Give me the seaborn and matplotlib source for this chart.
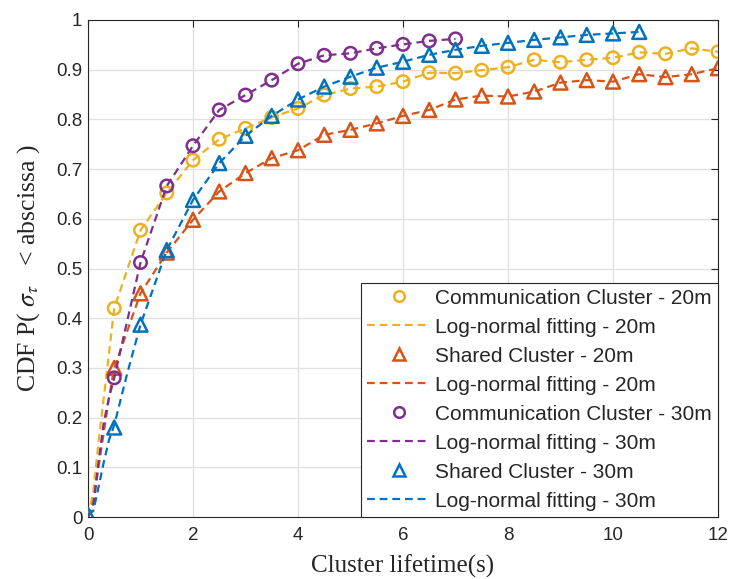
import numpy as np
import pandas as pd
import matplotlib
matplotlib.use("Agg")
import matplotlib.pyplot as plt
from matplotlib.lines import Line2D
import seaborn as sns

# measured CDF points (markers)
x_comm20 = [0.5, 1, 1.5, 2, 2.5, 3, 3.5, 4, 4.5, 5, 5.5, 6, 6.5, 7, 7.5, 8, 8.5, 9, 9.5, 10, 10.5, 11, 11.5, 12]
y_comm20 = [0.42, 0.577, 0.652, 0.718, 0.760, 0.782, 0.804, 0.822, 0.849, 0.862, 0.866, 0.876, 0.894, 0.893,
            0.899, 0.905, 0.920, 0.915, 0.920, 0.924, 0.935, 0.932, 0.943, 0.936]

x_shared20 = [0.5, 1, 1.5, 2, 2.5, 3, 3.5, 4, 4.5, 5, 5.5, 6, 6.5, 7, 7.5, 8, 8.5, 9, 9.5, 10, 10.5, 11, 11.5, 12]
y_shared20 = [0.30, 0.45, 0.532, 0.598, 0.655, 0.692, 0.722, 0.738, 0.769, 0.779, 0.792, 0.807, 0.819, 0.840,
              0.848, 0.846, 0.856, 0.874, 0.879, 0.876, 0.891, 0.885, 0.891, 0.903]

x_comm30 = [0.5, 1, 1.5, 2, 2.5, 3, 3.5, 4, 4.5, 5, 5.5, 6, 6.5, 7]
y_comm30 = [0.28, 0.512, 0.666, 0.747, 0.819, 0.849, 0.879, 0.912, 0.929, 0.933, 0.943, 0.951, 0.958, 0.962]

x_shared30 = [0, 0.5, 1, 1.5, 2, 2.5, 3, 3.5, 4, 4.5, 5, 5.5, 6, 6.5, 7, 7.5, 8, 8.5, 9, 9.5, 10, 10.5]
y_shared30 = [0.005, 0.18, 0.387, 0.537, 0.638, 0.712, 0.767, 0.807, 0.840, 0.866, 0.886, 0.904, 0.916, 0.930,
              0.940, 0.948, 0.954, 0.960, 0.965, 0.970, 0.973, 0.976]

# log-normal fitting curves
fx_comm20 = [0, 0.1, 0.2, 0.3, 0.4] + x_comm20
fy_comm20 = [0, 0.05, 0.15, 0.24, 0.33] + y_comm20
fx_shared20 = [0, 0.1, 0.2, 0.3, 0.4] + x_shared20
fy_shared20 = [0, 0.03, 0.10, 0.17, 0.24] + y_shared20
fx_comm30 = [0, 0.1, 0.2, 0.3, 0.4] + x_comm30
fy_comm30 = [0, 0.02, 0.11, 0.19, 0.24] + y_comm30
fx_shared30 = [0, 0.1, 0.2, 0.3, 0.4, 0.5, 0.75] + x_shared30[2:]
fy_shared30 = [0.005, 0.012, 0.06, 0.11, 0.155, 0.185, 0.29] + y_shared30[2:]

YELLOW, ORANGE, PURPLE, BLUE = "#EDB120", "#D95319", "#7E2F8E", "#0072BD"

series = [
    ("Communication Cluster - 20m", "Log-normal fitting - 20m", x_comm20, y_comm20, fx_comm20, fy_comm20, YELLOW, "o"),
    ("Shared Cluster - 20m", "Log-normal fitting - 20m", x_shared20, y_shared20, fx_shared20, fy_shared20, ORANGE, "^"),
    ("Communication Cluster - 30m", "Log-normal fitting - 30m", x_comm30, y_comm30, fx_comm30, fy_comm30, PURPLE, "o"),
    ("Shared Cluster - 30m", "Log-normal fitting - 30m", x_shared30, y_shared30, fx_shared30, fy_shared30, BLUE, "^"),
]

sns.set_style("white")
plt.rcParams["font.family"] = ["Liberation Sans", "DejaVu Sans"]
plt.rcParams["mathtext.fontset"] = "stix"

fig = plt.figure(figsize=(7.32, 5.79), dpi=100)
ax = fig.add_axes([88/732, 1 - 517/579, 630/732, 497/579])

dash = (0, (3.5, 2.2))
handles = []
for lab_m, lab_f, x, y, fx, fy, col, mk in series:
    ms = 9 if mk == "o" else 10
    sns.scatterplot(x=x, y=y, ax=ax, marker=mk, s=ms**2, facecolors="none",
                    edgecolor=col, linewidth=1.8, zorder=3, legend=False)
    sns.lineplot(x=fx, y=fy, ax=ax, color=col, lw=1.6, linestyle=dash,
                 zorder=3, legend=False, estimator=None, sort=False)
    handles.append(Line2D([], [], ls="none", marker=mk, ms=ms*0.85, mfc="none",
                          mec=col, mew=1.8, label=lab_m))
    handles.append(Line2D([], [], color=col, lw=1.6, ls=dash, label=lab_f))

ax.set_xlim(0, 12)
ax.set_ylim(0, 1)
ax.set_xticks(np.arange(0, 13, 2))
ax.set_yticks(np.arange(0, 1.01, 0.1))
ax.set_yticklabels(["0", "0.1", "0.2", "0.3", "0.4", "0.5", "0.6", "0.7", "0.8", "0.9", "1"])
ax.tick_params(direction="in", length=5, width=0.8, color="#262626", labelsize=13.5,
               top=True, right=True, labelcolor="#262626")
ax.tick_params(axis="x", pad=7)
ax.tick_params(axis="y", pad=4)
ax.grid(True, color="#dfdfdf", lw=0.9)
for s in ax.spines.values():
    s.set_color("#262626")
    s.set_linewidth(0.8)

ax.set_xlabel("Cluster lifetime(s)", family="Liberation Serif", fontsize=18, labelpad=8)
ax.set_ylabel(r"CDF P( $\sigma_{\tau}$   < abscissa )", family="Liberation Serif", fontsize=18.5, labelpad=10)

leg = ax.legend(handles=handles, loc="lower right", borderaxespad=0, fontsize=15,
                handlelength=3.0, handletextpad=0.25, labelspacing=0.48, borderpad=0.3,
                fancybox=False, framealpha=1, edgecolor="#262626")
leg.get_frame().set_linewidth(0.8)

fig.savefig("out.png", dpi=100)
